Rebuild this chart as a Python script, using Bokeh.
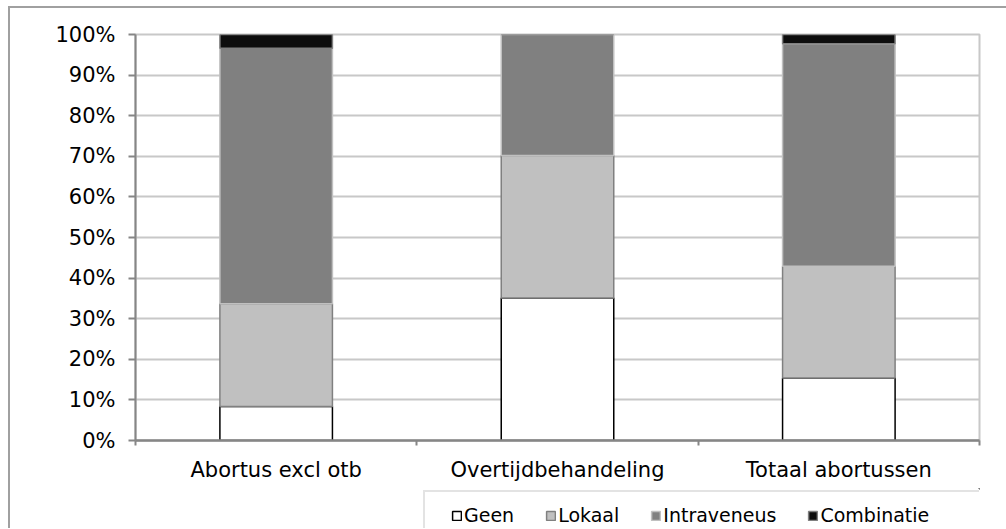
from bokeh.plotting import figure
from bokeh.layouts import column
from bokeh.models import (ColumnDataSource, Range1d, FixedTicker, PrintfTickFormatter,
                          Legend, LegendItem)
from bokeh.embed import file_html
from bokeh.resources import INLINE

# ---- data ----
categories = ["Abortus excl otb", "Overtijdbehandeling", "Totaal abortussen"]
series = ["Geen", "Lokaal", "Intraveneus", "Combinatie"]
geen = [8.4, 35.1, 15.4]
lokaal = [25.3, 35.1, 27.5]
intraveneus = [62.9, 29.8, 54.8]
combinatie = [3.4, 0.0, 2.3]
y_ticks = list(range(0, 101, 10))

fills = ["#ffffff", "#c0c0c0", "#808080", "#0d0d0d"]
lines = ["#000000", "#808080", "#c0c0c0", "#808080"]

xs = [i + 0.5 for i in range(len(categories))]
src = ColumnDataSource(dict(x=xs, Geen=geen, Lokaal=lokaal,
                            Intraveneus=intraveneus, Combinatie=combinatie))

FONT = "DejaVu Sans"

p = figure(width=996, height=480, output_backend="svg", toolbar_location=None,
           x_range=Range1d(0, len(categories)), y_range=Range1d(0, 100),
           min_border_left=125, min_border_right=27, min_border_top=26,
           min_border_bottom=48)

p.vbar_stack(series, x="x", width=0.4, source=src,
             fill_color=fills, line_color=lines, line_width=1.5)

# grid
p.xgrid.grid_line_color = None
p.ygrid.grid_line_color = "#c8c8c8"
p.ygrid.grid_line_width = 2
p.ygrid.ticker = FixedTicker(ticks=y_ticks)
p.outline_line_color = "#c8c8c8"
p.outline_line_width = 2

# y axis
ya = p.yaxis[0]
ya.ticker = FixedTicker(ticks=y_ticks)
ya.formatter = PrintfTickFormatter(format="%d%%")
ya.axis_line_color = "#868686"
ya.axis_line_width = 2
ya.major_tick_line_color = "#868686"
ya.major_tick_line_width = 2
ya.major_tick_out = 7
ya.major_tick_in = 0
ya.minor_tick_line_color = None
ya.major_label_standoff = 13
ya.major_label_text_font = FONT
ya.major_label_text_font_size = "21px"
ya.major_label_text_color = "#000000"

# x axis
xa = p.xaxis[0]
xa.ticker = FixedTicker(ticks=xs, minor_ticks=list(range(len(categories) + 1)))
xa.major_label_overrides = {x: c for x, c in zip(xs, categories)}
xa.axis_line_color = "#868686"
xa.axis_line_width = 2.5
xa.major_tick_out = 0
xa.major_tick_in = 0
xa.major_tick_line_color = None
xa.minor_tick_line_color = "#868686"
xa.minor_tick_line_width = 2
xa.minor_tick_out = 5
xa.minor_tick_in = 0
xa.major_label_standoff = 12
xa.major_label_text_font = FONT
xa.major_label_text_font_size = "21px"
xa.major_label_text_color = "#000000"

# legend strip (separate small figure so the legend is not clipped);
# the stacked bars are drawn there too but the ranges keep them out of view
lf = figure(width=996, height=40, output_backend="svg", toolbar_location=None,
            x_axis_location=None, y_axis_location=None,
            x_range=Range1d(-20, -19), y_range=Range1d(-20, -19),
            min_border=0, min_border_left=0, min_border_right=0,
            min_border_top=0, min_border_bottom=0)
lf.grid.visible = False
lf.outline_line_color = None
leg_renderers = lf.vbar_stack(series, x="x", width=0.4, source=src,
                              fill_color=fills, line_color=lines, line_width=1.5)
# invisible trailing entry: lets the legend box run on past the right edge
pad_renderer = lf.vbar(x="x", top="Geen", width=0.4, source=src,
                       fill_alpha=0, line_alpha=0)
items = [LegendItem(label=s, renderers=[r]) for s, r in zip(series, leg_renderers)]
items.append(LegendItem(label="\u00a0\u00a0\u00a0\u00a0\u00a0\u00a0", renderers=[pad_renderer]))
legend = Legend(items=items, orientation="horizontal", location=(288, -12),
                title=" ", title_location="left", title_text_font_size="1px",
                title_standoff=13, margin=0,
                padding=12, spacing=31, label_standoff=2,
                glyph_width=11, glyph_height=11, label_height=20,
                label_text_font=FONT, label_text_font_size="19px",
                label_text_color="#000000",
                border_line_color="#c8c8c8", border_line_width=2,
                background_fill_color="#ffffff", background_fill_alpha=1.0)
lf.add_layout(legend, "center")

layout = column(p, lf, spacing=0)
layout.styles = {"border-left": "2px solid #a0a0a0", "border-top": "2px solid #a0a0a0",
                 "margin-left": "8px", "margin-top": "6px"}

open("out.html", "w").write(file_html(layout, INLINE))
